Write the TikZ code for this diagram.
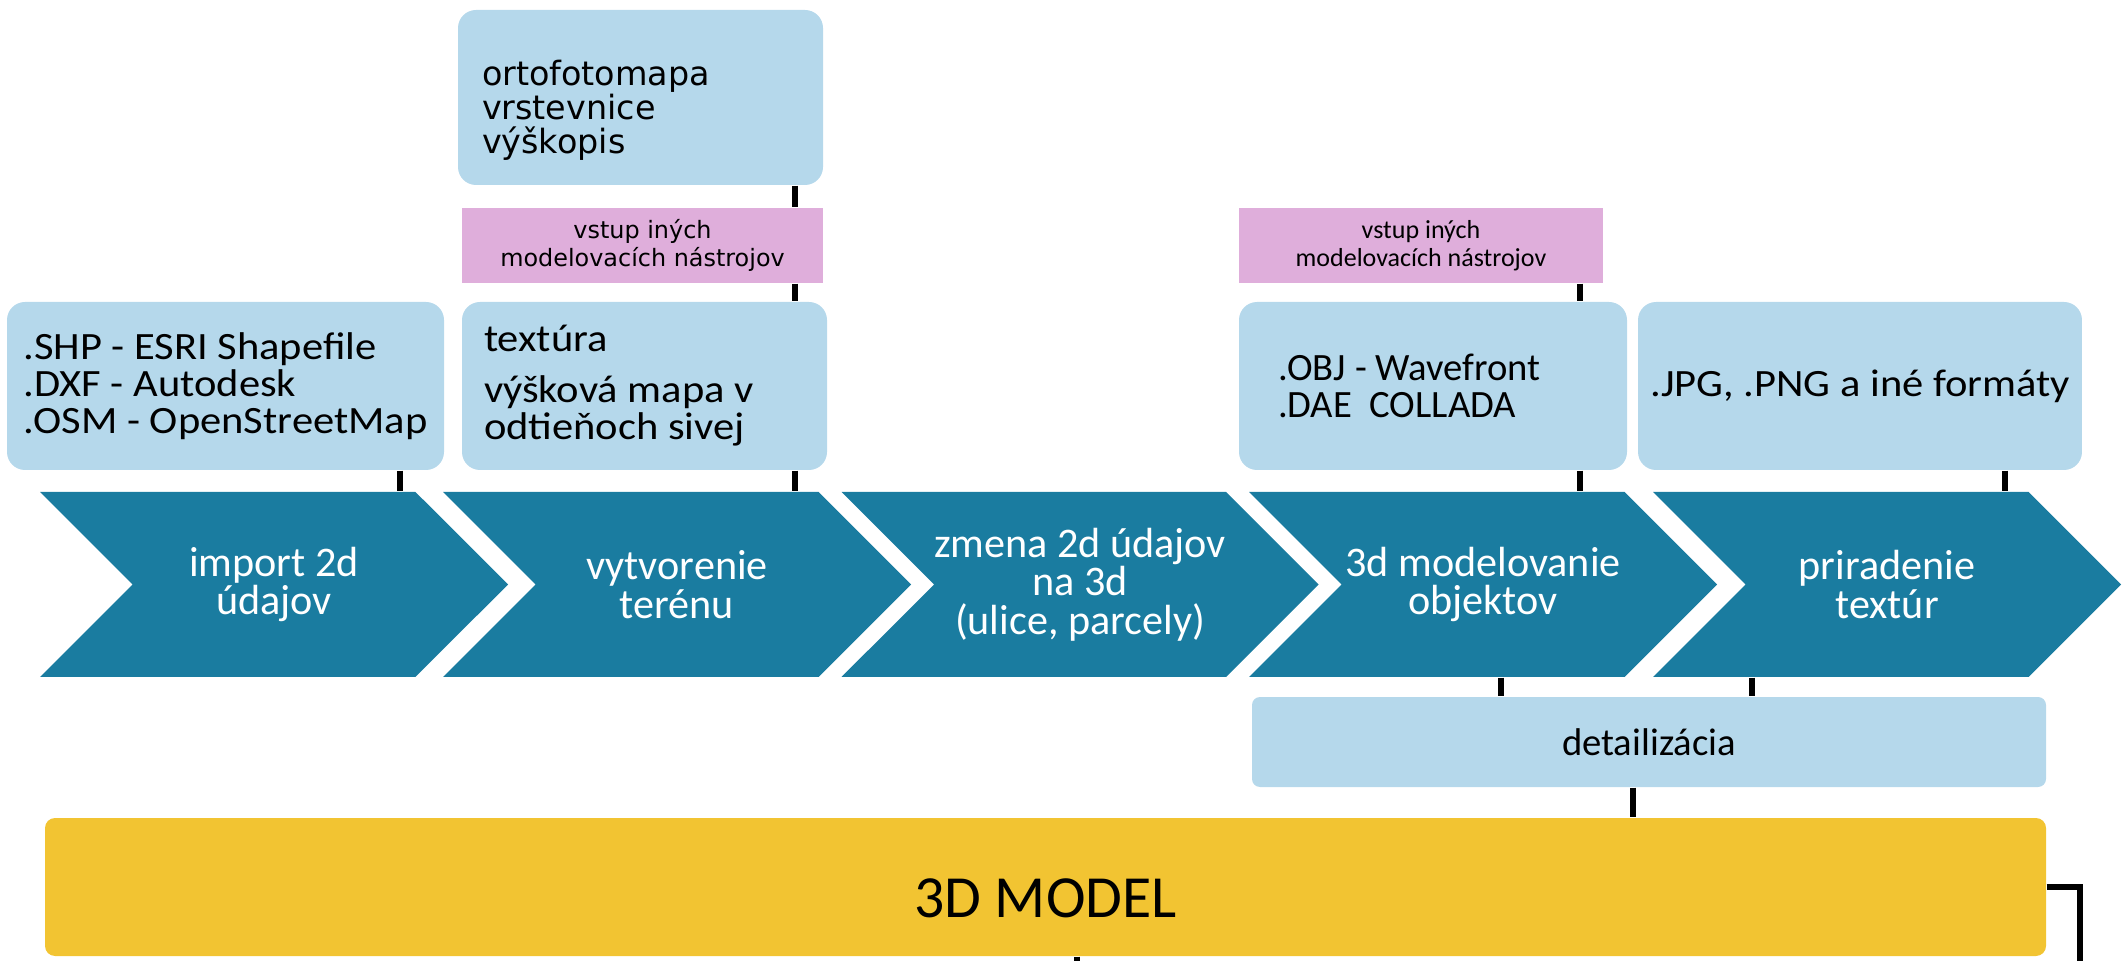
\documentclass[tikz,border=0pt]{standalone}
\usepackage{fontspec}
\setmainfont{Carlito}
\newfontfamily\boxfont{Carlito}[FakeStretch=1.1]
\newfontfamily\widefont{DejaVu Sans}
\usetikzlibrary{shapes.symbols,positioning}

\definecolor{stepblue}{RGB}{26,124,160}
\definecolor{boxblue}{RGB}{181,216,235}
\definecolor{toolpink}{RGB}{223,174,219}
\definecolor{modelgold}{RGB}{242,196,50}

\tikzset{
  stage/.style={signal, signal from=west, signal to=east, fill=stepblue,
    text=white, minimum width=46.8mm, minimum height=18.5mm, inner sep=0pt,
    align=center, font=\fontsize{12}{11}\selectfont},
  infobox/.style={fill=boxblue, rounded corners=1.8mm, minimum height=16.8mm,
    inner xsep=1.2mm, font=\boxfont\fontsize{11}{10.5}\selectfont},
  toolbox/.style={fill=toolpink, minimum height=7.5mm, align=center},
  link/.style={line width=0.6mm},
}

\begin{document}
\begin{tikzpicture}[x=0.1mm,y=-0.1mm]
 \useasboundingbox (0,0) rectangle (2122,961);

 % inputs above the stages
 \node[infobox, minimum height=17.5mm, inner xsep=2.4mm, text width=31.7mm,
   text height=5.1mm, align=flush left, font=\widefont\fontsize{9.5}{9.8}\selectfont]
   (relief) at (640.5,97.5) {ortofotomapa\\vrstevnice\\výškopis};
 \node[toolbox, minimum width=36.1mm, font=\widefont\fontsize{6.8}{7.8}\selectfont]
   (toolsL) at (642.5,245.5) {vstup iných\\modelovacích nástrojov};
 \node[infobox, minimum width=43.7mm, align=flush left] (formats2d) at (225.5,386)
   {.SHP - ESRI Shapefile\\.DXF - Autodesk\\.OSM - OpenStreetMap};
 \node[infobox, inner xsep=2.2mm, text width=32.1mm, align=flush left] (terrain) at (644.5,386)
   {textúra\\[4pt]výšková mapa v\\odtieňoch sivej};
 \node[toolbox, minimum width=36.4mm, font=\fontsize{7.4}{8}\selectfont]
   (toolsR) at (1421,245.5) {vstup iných\\modelovacích nástrojov};
 \node[infobox, inner xsep=3.9mm, text width=31mm, align=flush left,
   font=\fontsize{11}{10.3}\selectfont] (formats3d) at (1433,386)
   {.OBJ - Wavefront\\.DAE\ \ COLLADA};
 \node[infobox, minimum width=44mm, align=center] (textures) at (1860,386)
   {.JPG, .PNG a iné formáty};

 % stages
 \node[stage] (import) at (274,584.5) {import 2d\\údajov};
 \node[stage] (terrainstep) at (677,584.5) {vytvorenie\\terénu};
 \node[stage] (convert) at (1080,584.5) {zmena 2d údajov\\na 3d\\(ulice, parcely)};
 \node[stage] (modeling) at (1483,584.5) {3d modelovanie\\objektov};
 \node[stage] (texturing) at (1887,584.5) {priradenie\\textúr};

 % output
 \node[infobox, minimum width=79.4mm, minimum height=9mm, rounded corners=0.8mm,
   font=\fontsize{11}{12}\selectfont] (detail) at (1649,742) {detailizácia};
 \node[fill=modelgold, rounded corners=1mm, minimum width=200.1mm, minimum height=13.8mm,
   text height=6mm, text depth=0mm, font=\fontsize{17}{20}\selectfont]
   (model) at (1045.5,887) {3D MODEL};

 % x positions of the links
 \coordinate (xShp) at (400,0);
 \coordinate (xTer) at (795,0);
 \coordinate (xObj) at (1580,0);
 \coordinate (xJpg) at (2005,0);
 \coordinate (xMod) at (1501,0);
 \coordinate (xTex) at (1752,0);
 \coordinate (xDet) at (1633,0);
 \coordinate (cornerEnd) at (2080,961);
 \coordinate (stubEnd) at (1077,961);

 \draw[link] (relief.south -| xTer) -- (toolsL.north -| xTer);
 \draw[link] (toolsL.south -| xTer) -- (terrain.north -| xTer);
 \draw[link] (terrain.south -| xTer) -- (terrainstep.north -| xTer);
 \draw[link] (formats2d.south -| xShp) -- (import.north -| xShp);
 \draw[link] (toolsR.south -| xObj) -- (formats3d.north -| xObj);
 \draw[link] (formats3d.south -| xObj) -- (modeling.north -| xObj);
 \draw[link] (textures.south -| xJpg) -- (texturing.north -| xJpg);
 \draw[link] (modeling.south -| xMod) -- (detail.north -| xMod);
 \draw[link] (texturing.south -| xTex) -- (detail.north -| xTex);
 \draw[link] (detail.south -| xDet) -- (model.north -| xDet);
 \draw[link] (model.east) -| (cornerEnd);
 \draw[link] (model.south -| stubEnd) -- (stubEnd);
\end{tikzpicture}
\end{document}
